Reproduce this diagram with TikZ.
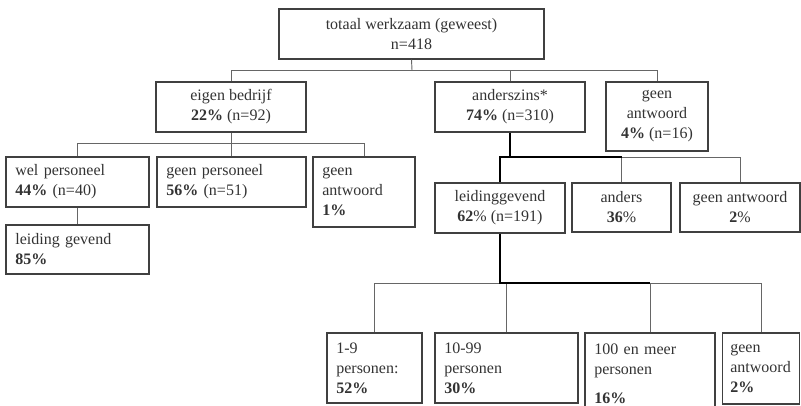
\documentclass[tikz,border=0pt]{standalone}
\usepackage{fontspec}
\setmainfont{Liberation Serif}
\definecolor{txtc}{gray}{0.2}
\definecolor{boxc}{gray}{0.25}
\definecolor{linec}{gray}{0.4}
\begin{document}
\begin{tikzpicture}[x=0.75pt,y=-0.75pt,
  every node/.style={font=\fontsize{12pt}{15pt}\selectfont, text=txtc},
  box/.style={draw=boxc, line width=0.9pt, inner ysep=0pt, align=center},
  lbox/.style={box, align=left, text width=#1, inner xsep=7pt},
  thinline/.style={draw=linec, line width=0.7pt},
  thickline/.style={draw=black, line width=1.1pt}]
\useasboundingbox (0,0) rectangle (801,406);
\clip (0,0) rectangle (801,406);

% level 0
\node[box, minimum width=198.75pt, minimum height=37.5pt] (top) at (411.5,34) {totaal werkzaam (geweest)\\n=418};

% level 1
\node[box, minimum width=112.5pt, minimum height=37.5pt] (eig) at (231,107) {eigen bedrijf\\\textbf{22\%} (n=92)};
\node[box, minimum width=112.5pt, minimum height=37.5pt] (and) at (510,107) {anderszins*\\\textbf{74\%} (n=310)};
\node[box, minimum width=76.5pt, minimum height=51.75pt] (ga1) at (657,116.5) {geen\\antwoord\\\textbf{4\%} (n=16)};

% level 2 left
\node[lbox=93.25pt, minimum height=37.5pt] (wel) at (77.5,182) {wel personeel\\\textbf{44\%} (n=40)};
\node[lbox=97.75pt, minimum height=37.5pt] (gp) at (231.5,182) {geen personeel\\\textbf{56\%} (n=51)};
\node[lbox=62.5pt, minimum height=52.5pt] (ga2) at (364,192) {geen\\antwoord\\\textbf{1\%}};
\node[lbox=93.25pt, minimum height=36.75pt] (lg1) at (77.5,249.5) {leiding gevend\\\textbf{85\%}};

% level 2 right
\node[box, minimum width=97.5pt, minimum height=37.5pt] (lgv) at (500,208) {leidinggevend\\\textbf{62}\% (n=191)};
\node[box, minimum width=74.25pt, minimum height=36.75pt] (and2) at (621.5,207.5) {anders\\\textbf{36}\%};
\node[box, minimum width=90pt, minimum height=36.75pt] (ga3) at (740,207.5) {geen antwoord\\\textbf{2}\%};

% level 3
\node[lbox=57.25pt, minimum height=52.5pt] (b1) at (374.5,368) {1-9\\personen:\\\textbf{52\%}};
\node[lbox=93.25pt, minimum height=52.5pt] (b2) at (506.5,368) {10-99\\personen\\\textbf{30\%}};
\node[lbox=83.5pt, minimum height=60.75pt] (b3) at (650,373.5) {100 en meer\\personen\\[6.75pt]\textbf{16\%}};
\node[lbox=46pt, inner xsep=6pt, minimum height=53.25pt] (b4) at (761,368.5) {geen\\antwoord\\\textbf{2\%}};

% junctions
\coordinate (j1) at (412,70);
\coordinate (j2) at (231,143);
\coordinate (j3) at (510,157);
\coordinate (j4) at (500,283);

% connectors level 0 -> 1
\path[thinline] (top.south) -- (j1);
\path[thinline] (eig.north) |- (j1);
\path[thinline] (and.north) |- (j1);
\path[thinline] (ga1.north) |- (j1);

% eigen bedrijf -> children
\path[thinline] (eig.south) -- (j2);
\path[thinline] (wel.north) |- (j2);
\path[thinline] (gp.north) |- (j2);
\path[thinline] (ga2.north) |- (j2);
\path[thinline] (wel.south) -- (lg1.north);

% anderszins -> children
\path[thinline] (and2.north) |- (j3);
\path[thinline] (ga3.north) |- (j3);
\path[thickline] (and.south) -- (j3) -| (lgv.north);
\path[thickline] (j3) -- (and2.north |- j3);

% leidinggevend -> children
\path[thinline] (b1.north) |- (j4);
\path[thinline] (b2.north) |- (j4);
\path[thinline] (b3.north) |- (j4);
\path[thinline] (b4.north) |- (j4);
\path[thickline] (lgv.south) -- (j4) -- (b3.north |- j4);
\end{tikzpicture}
\end{document}
